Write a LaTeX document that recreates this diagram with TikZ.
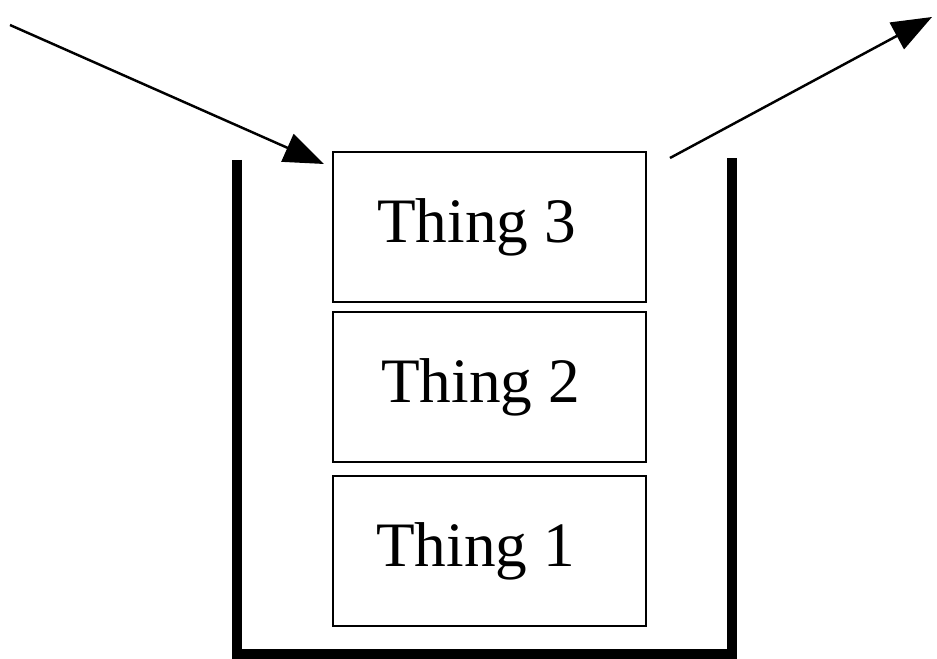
\documentclass[tikz,border=0pt]{standalone}
\usepackage{fontspec}
\setmainfont{Liberation Serif}
\usetikzlibrary{arrows.meta}

\tikzset{
  thing/.style={draw, line width=0.6pt, minimum width=3.13cm, minimum height=1.5cm, font=\fontsize{18}{20}\selectfont},
  push/.style={-{Triangle[length=0.4cm, width=0.3cm]}, line width=0.7pt}
}

\begin{document}
\begin{tikzpicture}[x=0.01cm, y=-0.01cm]
      \useasboundingbox (0,0) rectangle (937,658);
      % the stack
      \draw[line width=2.6pt] (237,160) -- (237,654) -- (732,654) -- (732,158);
      \node[thing] (thing3) at (489.5,227) {Thing 3\kern0.26cm};
      \node[thing] (thing2) at (489.5,387) {Thing 2\kern0.18cm};
      \node[thing] (thing1) at (489.5,551) {Thing 1\kern0.28cm};
      % push and pop
      \coordinate (pushfrom) at (10,25);
      \coordinate (pushto) at (324,164);
      \coordinate (popfrom) at (670,158);
      \coordinate (popto) at (932,17);
      \draw[push] (pushfrom) -- (pushto);
      \draw[push] (popfrom) -- (popto);
\end{tikzpicture}
\end{document}
